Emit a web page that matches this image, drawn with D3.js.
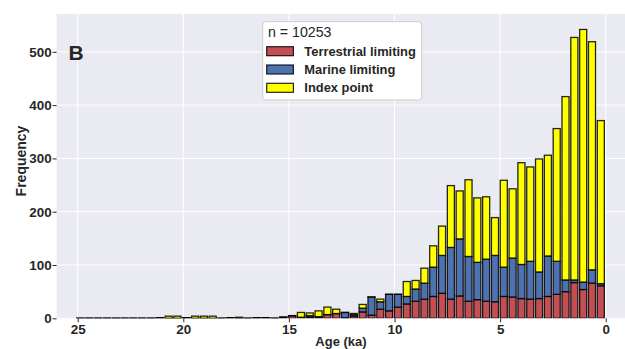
<!DOCTYPE html>
<html>
<head>
<meta charset="utf-8">
<script src="https://cdn.jsdelivr.net/npm/d3@7"></script>
<style>
  body { margin: 0; background: #fff; }
  text { font-family: "Liberation Sans", Arial, sans-serif; }
</style>
</head>
<body>
<svg id="chart" width="625" height="349"></svg>
<script>
// histogram bins, youngest first (age in ka)
const binStart = 0.024;
const binWidth = 0.4176;

const terrestrial = [61, 66, 54, 67, 50, 45, 41, 37, 36, 37, 40, 41, 31, 32, 35, 32, 42, 36, 47, 41,
  36, 32, 27, 21, 14, 17, 6, 12, 4, 1, 9, 7, 2, 2, 2, 5, 2, 0, 1, 1,
  0, 0, 1, 0, 0, 0, 0, 1, 0, 0, 1, 0, 0, 0, 0, 0, 0, 0, 0, 0];
const marine = [4, 25, 14, 5, 22, 62, 76, 50, 71, 64, 73, 55, 87, 79, 70, 84, 107, 97, 71, 55,
  30, 23, 14, 24, 31, 14, 34, 7, 3, 10, 0, 0, 1, 3, 0, 0, 0, 0, 0, 0,
  0, 0, 0, 0, 0, 0, 0, 0, 0, 0, 0, 0, 0, 0, 0, 0, 0, 0, 0, 0];
const indexPoint = [306, 428, 474, 455, 344, 249, 189, 212, 177, 191, 130, 163, 71, 117, 121, 144, 90, 116, 55, 40,
  28, 16, 28, 0, 0, 5, 0, 7, 2, 0, 8, 14, 11, 5, 9, 0, 0, 0, 0, 0,
  0, 2, 0, 0, 4, 4, 4, 0, 4, 4, 0, 0, 0, 0, 0, 0, 0, 0, 0, 0];

const seriesNames = ["Terrestrial limiting", "Marine limiting", "Index point"];
const seriesColors = ["#c44e52", "#4c72b0", "#ffff00"];
const xTicks = [25, 20, 15, 10, 5, 0];
const yTicks = [0, 100, 200, 300, 400, 500];
const sampleCount = "n = 10253";

const svg = d3.select("#chart");
const plotLeft = 56.6, plotTop = 14, plotBottom = 318.3, plotRight = 625;

const x = d3.scaleLinear().domain([26, -1]).range([plotLeft, plotLeft + 27 * 21.12]);
const y = d3.scaleLinear().domain([0, 571]).range([plotBottom, plotTop]);

// panel background
svg.append("rect")
  .attr("x", plotLeft).attr("y", plotTop)
  .attr("width", plotRight - plotLeft).attr("height", plotBottom - plotTop)
  .attr("fill", "#eaeaf2");

svg.append("clipPath").attr("id", "plot")
  .append("rect")
  .attr("x", plotLeft).attr("y", plotTop)
  .attr("width", plotRight - plotLeft).attr("height", plotBottom - plotTop);

// grid lines
const grid = svg.append("g").attr("clip-path", "url(#plot)");
grid.selectAll(".gx").data(xTicks).enter().append("line")
  .attr("x1", d => x(d)).attr("x2", d => x(d))
  .attr("y1", plotTop).attr("y2", plotBottom)
  .attr("stroke", "#fff").attr("stroke-width", 1);
grid.selectAll(".gy").data(yTicks).enter().append("line")
  .attr("x1", plotLeft).attr("x2", plotRight)
  .attr("y1", d => y(d)).attr("y2", d => y(d))
  .attr("stroke", "#fff").attr("stroke-width", 1);

// stacked bars
const rows = terrestrial.map((t, i) => ({
  bin: i,
  "Terrestrial limiting": t,
  "Marine limiting": marine[i],
  "Index point": indexPoint[i]
}));
const stacked = d3.stack().keys(seriesNames)(rows);

const barW = d => {
  const a0 = binStart + d.data.bin * binWidth;
  return Math.abs(x(a0) - x(a0 + binWidth));
};
const barX = d => {
  const a0 = binStart + d.data.bin * binWidth;
  return x(a0 + binWidth) + barW(d) * 0.1;
};

const bars = svg.append("g").attr("clip-path", "url(#plot)");
stacked.forEach((layer, li) => {
  bars.append("g")
    .selectAll("rect")
    .data(layer)
    .enter()
    .append("rect")
    .attr("x", barX)
    .attr("width", d => barW(d) * 0.8)
    .attr("y", d => y(d[1]))
    .attr("height", d => Math.max(y(d[0]) - y(d[1]), 0.01))
    .attr("fill", seriesColors[li])
    .attr("stroke", "#000")
    .attr("stroke-opacity", 0.85)
    .attr("stroke-width", 1.3);
});

// axes
const xaxis = svg.append("g")
  .attr("transform", "translate(0," + plotBottom + ")")
  .call(d3.axisBottom(x).tickValues(xTicks).tickSize(4).tickPadding(2).tickFormat(d3.format("d")));
xaxis.select(".domain").remove();
xaxis.selectAll("line").attr("stroke", "#262626").attr("stroke-width", 1);
xaxis.selectAll("text")
  .attr("fill", "#262626")
  .style("font-size", "13.4px")
  .style("font-weight", "bold");

const yaxis = svg.append("g")
  .attr("transform", "translate(" + plotLeft + ",0)")
  .call(d3.axisLeft(y).tickValues(yTicks).tickSize(4).tickPadding(1).tickFormat(d3.format("d")));
yaxis.select(".domain").remove();
yaxis.selectAll("line").attr("stroke", "#262626").attr("stroke-width", 1);
yaxis.selectAll("text")
  .attr("fill", "#262626")
  .style("font-size", "13.4px")
  .style("font-weight", "bold");

// axis titles
svg.append("text")
  .attr("x", 341).attr("y", 346)
  .attr("text-anchor", "middle")
  .attr("fill", "#262626")
  .style("font-size", "13px").style("font-weight", "bold")
  .text("Age (ka)");

svg.append("text")
  .attr("transform", "translate(26,161) rotate(-90)")
  .attr("text-anchor", "middle")
  .attr("fill", "#262626")
  .style("font-size", "14px").style("font-weight", "bold")
  .text("Frequency");

// panel letter
svg.append("text")
  .attr("x", 68.5).attr("y", 60)
  .attr("fill", "#262626")
  .style("font-size", "21px").style("font-weight", "bold")
  .text("B");

// legend
const lg = svg.append("g");
lg.append("rect")
  .attr("x", 262.7).attr("y", 21.7)
  .attr("width", 159).attr("height", 78.3)
  .attr("rx", 3)
  .attr("fill", "#fff")
  .attr("stroke", "#cccccc").attr("stroke-width", 1);
lg.append("text")
  .attr("x", 268).attr("y", 37)
  .attr("fill", "#262626")
  .style("font-size", "14.2px")
  .text(sampleCount);
seriesNames.forEach((name, i) => {
  const cy = 51.2 + i * 18.3;
  lg.append("rect")
    .attr("x", 266.7).attr("y", cy - 4.5)
    .attr("width", 26.7).attr("height", 9)
    .attr("fill", seriesColors[i])
    .attr("stroke", "#000").attr("stroke-opacity", 0.85).attr("stroke-width", 1.2);
  lg.append("text")
    .attr("x", 304.3).attr("y", cy + 4.6)
    .attr("fill", "#262626")
    .style("font-size", "12.9px").style("font-weight", "bold")
    .text(name);
});
</script>
</body>
</html>
